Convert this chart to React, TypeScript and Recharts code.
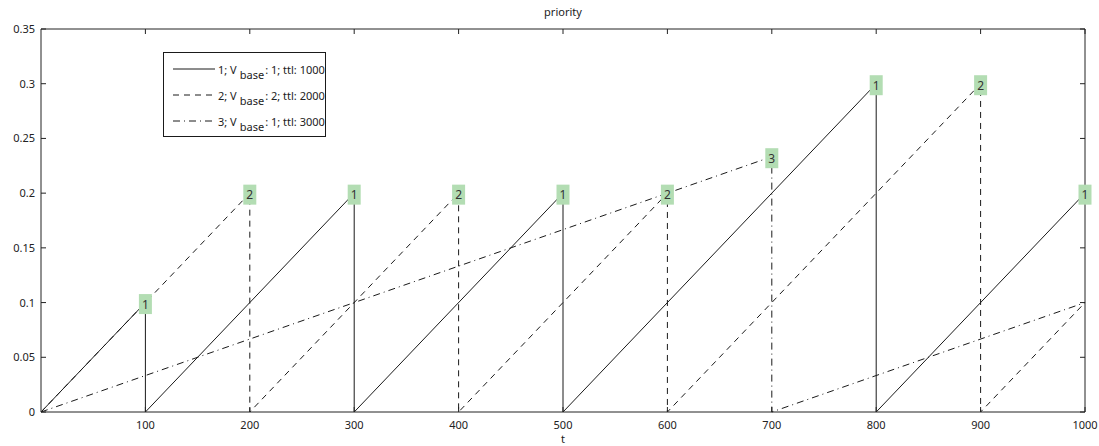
import { LineChart, Line, XAxis, YAxis, LabelList } from 'recharts';

// priority over time, one saw-tooth per message
const series1 = [
  { t: 0, v: 0 },
  { t: 100, v: 0.1, mark: '1' },
  { t: 100, v: 0 },
  { t: 300, v: 0.2, mark: '1' },
  { t: 300, v: 0 },
  { t: 500, v: 0.2, mark: '1' },
  { t: 500, v: 0 },
  { t: 800, v: 0.3, mark: '1' },
  { t: 800, v: 0 },
  { t: 1000, v: 0.2, mark: '1' },
];

const series2 = [
  { t: 0, v: 0 },
  { t: 200, v: 0.2, mark: '2' },
  { t: 200, v: 0 },
  { t: 400, v: 0.2, mark: '2' },
  { t: 400, v: 0 },
  { t: 600, v: 0.2, mark: '2' },
  { t: 600, v: 0 },
  { t: 900, v: 0.3, mark: '2' },
  { t: 900, v: 0 },
  { t: 1000, v: 0.1 },
];

const series3 = [
  { t: 0, v: 0 },
  { t: 700, v: 0.2333, mark: '3' },
  { t: 700, v: 0 },
  { t: 1000, v: 0.1 },
];

const xTicks = [100, 200, 300, 400, 500, 600, 700, 800, 900, 1000];
const yTicks = [0, 0.05, 0.1, 0.15, 0.2, 0.25, 0.3, 0.35];
const yTickLabels = ['0', '0.05', '0.1', '0.15', '0.2', '0.25', '0.3', '0.35'];

const legendItems = [
  { id: '1', vbase: '1', ttl: '1000', dash: undefined },
  { id: '2', vbase: '2', ttl: '2000', dash: '6 5' },
  { id: '3', vbase: '1', ttl: '3000', dash: '7 4 1 4' },
];

const INK = '#1a1a1a';
const AXIS = '#222';
const FONT = '"Noto Sans", sans-serif';

const BottomTick = ({ x, y, payload }: any) => (
  <g>
    <line x1={x} x2={x} y1={y} y2={y - 5} stroke={AXIS} />
    <text x={x} y={y + 17} textAnchor="middle" fontSize={11} fill="#222" fontFamily={FONT}>
      {payload.value}
    </text>
  </g>
);

const TopTick = ({ x, y }: any) => <line x1={x} x2={x} y1={y} y2={y + 5} stroke={AXIS} />;

const LeftTick = ({ x, y, payload, index }: any) => (
  <g>
    <line x1={x} x2={x + 5} y1={y} y2={y} stroke={AXIS} />
    <text x={x - 6} y={y + 4} textAnchor="end" fontSize={11} fill="#222" fontFamily={FONT}>
      {yTickLabels[index] ?? payload.value}
    </text>
  </g>
);

const RightTick = ({ x, y }: any) => <line x1={x} x2={x - 5} y1={y} y2={y} stroke={AXIS} />;

const MarkLabel = (props: any) => {
  const { x, y, value } = props;
  if (!value) return null;
  return (
    <g>
      <rect x={x - 6.5} y={y - 8.5} width={13} height={20} fill="#b3ddb3" />
      <text x={x} y={y + 6} textAnchor="middle" fontSize={12} fill="#333" fontFamily={FONT}>
        {value}
      </text>
    </g>
  );
};

const Legend = () => (
  <div
    style={{
      position: 'absolute',
      left: 163,
      top: 52,
      width: 163,
      height: 85,
      border: `1px solid ${INK}`,
      background: '#fff',
      fontFamily: FONT,
      fontSize: 11,
      color: '#222',
      boxSizing: 'border-box',
    }}
  >
    {legendItems.map((it, i) => (
      <div key={it.id} style={{ position: 'absolute', left: 8, top: 8 + i * 26, display: 'flex', alignItems: 'center', whiteSpace: 'nowrap' }}>
        <svg width={44} height={16}>
          <line x1={1} x2={43} y1={8} y2={8} stroke={INK} strokeDasharray={it.dash} />
        </svg>
        <span style={{ marginLeft: 2 }}>
          {it.id}; V<span style={{ position: 'relative', top: 5, marginLeft: 3, marginRight: 1 }}>base</span>: {it.vbase}; ttl: {it.ttl}
        </span>
      </div>
    ))}
  </div>
);

export default function App() {
  return (
    <div style={{ position: 'absolute', left: 0, top: 0, width: 1099, height: 446, background: '#fff' }}>
      <div
        style={{
          position: 'absolute',
          left: 41,
          width: 1044,
          top: 4,
          textAlign: 'center',
          fontFamily: FONT,
          fontSize: 11,
          color: '#222',
        }}
      >
        priority
      </div>
      <LineChart width={1099} height={446} data={series1} margin={{ top: 28, right: 13, bottom: 0, left: 0 }}>
        <XAxis
          dataKey="t"
          type="number"
          domain={[0, 1000]}
          ticks={xTicks}
          height={34}
          tickSize={0}
          tickMargin={0}
          tickLine={false}
          tick={<BottomTick />}
          axisLine={{ stroke: AXIS }}
          interval={0}
          label={{ value: 't', position: 'insideBottom', offset: 3, fontSize: 11, fill: '#222', fontFamily: FONT }}
        />
        <XAxis
          xAxisId="top"
          orientation="top"
          dataKey="t"
          type="number"
          domain={[0, 1000]}
          ticks={xTicks}
          height={1}
          tickSize={0}
          tickMargin={0}
          tickLine={false}
          tick={<TopTick />}
          axisLine={{ stroke: AXIS }}
          interval={0}
        />
        <YAxis
          type="number"
          domain={[0, 0.35]}
          ticks={yTicks}
          width={41}
          tickSize={0}
          tickMargin={0}
          tickLine={false}
          tick={<LeftTick />}
          axisLine={{ stroke: AXIS }}
          interval={0}
        />
        <YAxis
          yAxisId="right"
          orientation="right"
          type="number"
          domain={[0, 0.35]}
          ticks={yTicks}
          width={1}
          tickSize={0}
          tickMargin={0}
          tickLine={false}
          tick={<RightTick />}
          axisLine={{ stroke: AXIS }}
          interval={0}
        />
        {/* invisible series so the top and right box axes are drawn */}
        <Line
          xAxisId="top"
          yAxisId="right"
          data={series1}
          dataKey="v"
          stroke="none"
          dot={false}
          activeDot={false}
          isAnimationActive={false}
        />
        <Line
          data={series3}
          dataKey="v"
          type="linear"
          stroke={INK}
          strokeWidth={1}
          strokeDasharray="7 4 1 4"
          dot={false}
          activeDot={false}
          isAnimationActive={false}
        >
          <LabelList dataKey="mark" content={MarkLabel} />
        </Line>
        <Line
          data={series2}
          dataKey="v"
          type="linear"
          stroke={INK}
          strokeWidth={1}
          strokeDasharray="6 5"
          dot={false}
          activeDot={false}
          isAnimationActive={false}
        >
          <LabelList dataKey="mark" content={MarkLabel} />
        </Line>
        <Line
          data={series1}
          dataKey="v"
          type="linear"
          stroke={INK}
          strokeWidth={1}
          dot={false}
          activeDot={false}
          isAnimationActive={false}
        >
          <LabelList dataKey="mark" content={MarkLabel} />
        </Line>
      </LineChart>
      <Legend />
    </div>
  );
}
